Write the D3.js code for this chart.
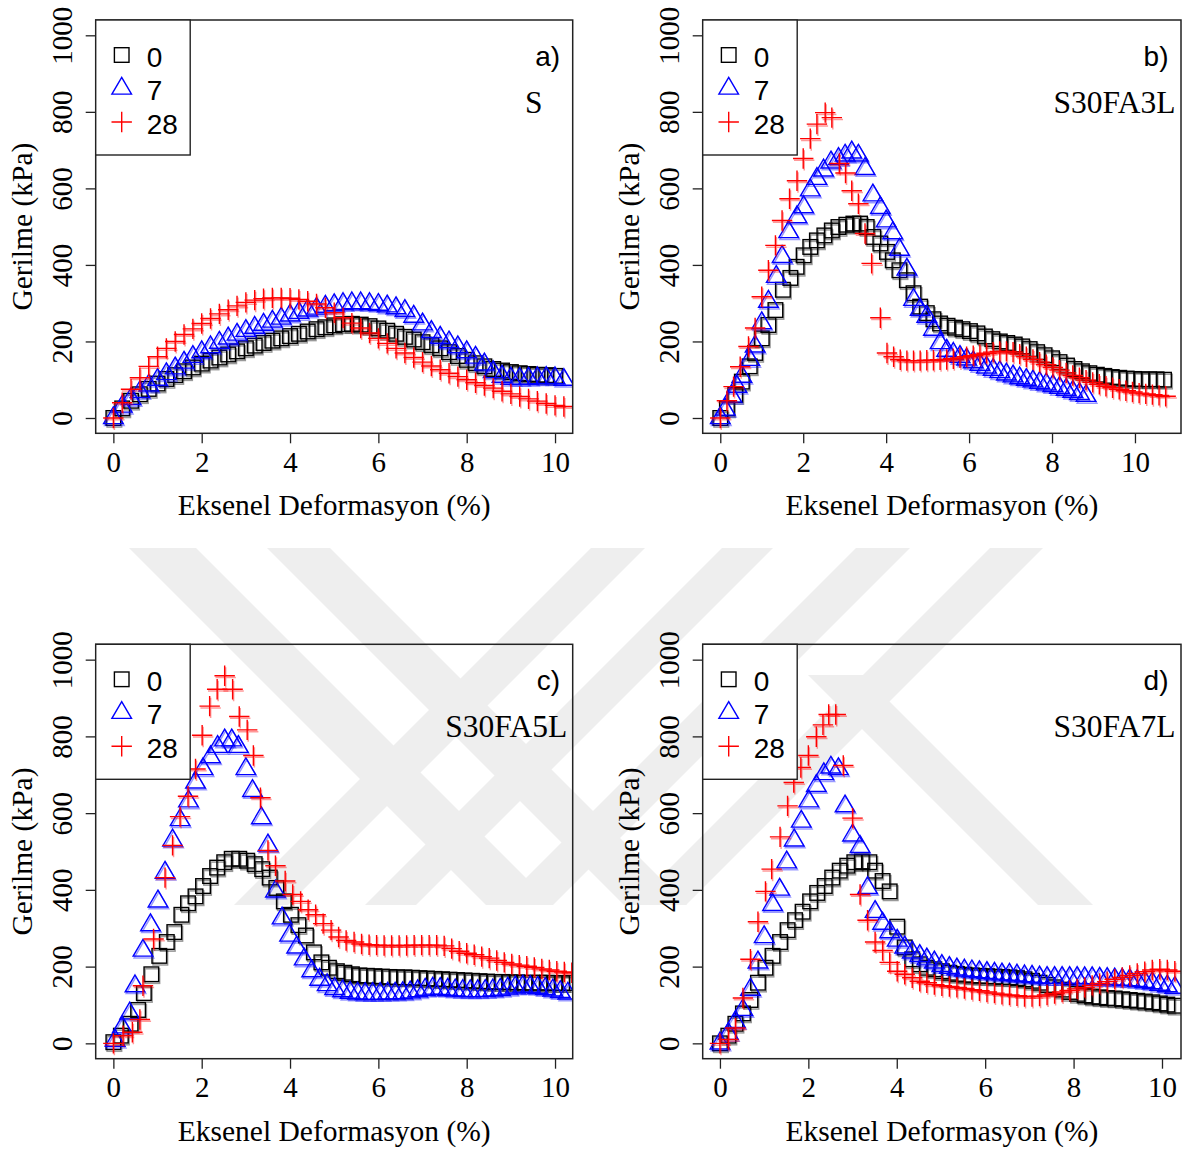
<!DOCTYPE html>
<html><head><meta charset="utf-8">
<script src="https://cdn.jsdelivr.net/npm/d3@7"></script>
<style>body{margin:0;background:#fff}svg{display:block}</style>
</head><body>
<script>
// ---------- data ----------
const xTicks = [0, 2, 4, 6, 8, 10];
const yTicks = [0, 200, 400, 600, 800, 1000];
const legendLabels = ["0", "7", "28"];
const xTitle = "Eksenel Deformasyon (%)";
const yTitle = "Gerilme (kPa)";

// Panel a) S
const a0 = [[0,0],[0.2,25],[0.4,45],[0.6,62],[0.8,76],[1.0,90],[1.2,102],[1.4,112],[1.6,122],[1.8,132],[2.0,142],[2.2,150],[2.4,158],[2.6,166],[2.8,174],[3.0,182],[3.2,189],[3.4,196],[3.6,202],[3.8,208],[4.0,214],[4.2,220],[4.4,226],[4.6,232],[4.8,237],[5.0,242],[5.2,245],[5.4,246],[5.6,244],[5.8,240],[6.0,234],[6.2,228],[6.4,220],[6.6,212],[6.8,205],[7.0,198],[7.2,190],[7.4,182],[7.6,172],[7.8,162],[8.0,152],[8.2,143],[8.4,135],[8.6,128],[8.8,124],[9.0,120],[9.2,117],[9.4,115],[9.6,113],[9.8,112],[10.0,110]];
const a7 = [[0,0],[0.2,30],[0.4,50],[0.6,68],[0.8,85],[1.0,100],[1.2,115],[1.4,130],[1.6,145],[1.8,160],[2.0,172],[2.2,185],[2.4,197],[2.6,208],[2.8,218],[3.0,228],[3.2,236],[3.4,244],[3.6,252],[3.8,260],[4.0,268],[4.2,275],[4.4,281],[4.6,286],[4.8,291],[5.0,295],[5.2,298],[5.4,300],[5.6,300],[5.8,298],[6.0,296],[6.2,292],[6.4,287],[6.6,280],[6.8,265],[7.0,245],[7.2,225],[7.4,210],[7.6,198],[7.8,185],[8.0,172],[8.2,158],[8.4,140],[8.6,120],[8.8,108],[9.0,103],[9.2,102],[9.4,103],[9.6,104],[9.8,105],[10.0,104],[10.2,100]];
const a28 = [[0,0],[0.2,40],[0.4,75],[0.6,105],[0.8,135],[1.0,160],[1.2,182],[1.4,200],[1.6,218],[1.8,233],[2.0,247],[2.2,260],[2.4,272],[2.6,283],[2.8,293],[3.0,302],[3.2,308],[3.4,312],[3.6,314],[3.8,314],[4.0,313],[4.2,310],[4.4,305],[4.6,298],[4.8,288],[5.0,275],[5.2,262],[5.4,248],[5.6,235],[5.8,222],[6.0,208],[6.2,195],[6.4,182],[6.6,170],[6.8,158],[7.0,146],[7.2,136],[7.4,126],[7.6,117],[7.8,108],[8.0,100],[8.2,92],[8.4,85],[8.6,78],[8.8,70],[9.0,63],[9.2,56],[9.4,50],[9.6,44],[9.8,38],[10.0,33],[10.2,30]];

// Panel b) S30FA3L
const b0 = [[0,0],[0.16,25],[0.36,60],[0.52,95],[0.71,135],[0.84,170],[1.0,208],[1.16,243],[1.33,282],[1.51,335],[1.69,366],[1.84,395],[2.01,425],[2.17,447],[2.33,464],[2.51,477],[2.69,490],[2.85,499],[3.04,505],[3.21,508],[3.37,508],[3.53,499],[3.69,473],[3.86,456],[4.02,434],[4.16,412],[4.32,386],[4.5,360],[4.66,326],[4.82,291],[4.98,274],[5.14,258],[5.3,247],[5.48,241],[5.66,236],[5.84,232],[6.02,227],[6.2,221],[6.38,213],[6.56,206],[6.74,200],[6.92,196],[7.1,192],[7.28,187],[7.46,180],[7.64,172],[7.82,164],[8.0,156],[8.18,146],[8.36,137],[8.54,128],[8.72,122],[8.9,117],[9.08,113],[9.26,110],[9.44,107],[9.62,105],[9.8,103],[9.98,102],[10.16,101],[10.34,101],[10.52,101],[10.7,100]];
const b7 = [[0,0],[0.12,22],[0.28,56],[0.4,82],[0.52,108],[0.71,152],[0.84,187],[1.0,248],[1.16,304],[1.35,369],[1.49,421],[1.65,486],[1.85,525],[2.01,551],[2.17,595],[2.33,625],[2.49,647],[2.67,668],[2.85,677],[3.01,686],[3.17,694],[3.33,686],[3.49,651],[3.68,582],[3.86,549],[4.0,514],[4.16,483],[4.32,440],[4.5,388],[4.66,309],[4.82,283],[4.98,265],[5.14,231],[5.3,196],[5.46,176],[5.62,168],[5.78,160],[5.94,153],[6.1,146],[6.26,139],[6.42,132],[6.58,126],[6.74,120],[6.9,114],[7.06,109],[7.22,104],[7.38,100],[7.54,96],[7.7,92],[7.86,88],[8.02,84],[8.18,79],[8.34,74],[8.5,69],[8.66,63],[8.82,58]];
const b28 = [[0,0],[0.16,45],[0.32,82],[0.48,134],[0.68,187],[0.84,235],[1.0,317],[1.16,386],[1.33,451],[1.49,516],[1.67,573],[1.85,620],[2.0,678],[2.17,730],[2.33,768],[2.53,798],[2.69,785],[2.87,665],[3.02,640],[3.17,594],[3.33,560],[3.49,482],[3.65,404],[3.86,262],[4.02,170],[4.18,160],[4.34,152],[4.5,150],[4.66,150],[4.82,150],[4.98,151],[5.14,151],[5.3,152],[5.46,153],[5.62,155],[5.78,157],[5.94,160],[6.1,163],[6.26,166],[6.42,169],[6.58,172],[6.74,174],[6.9,174],[7.06,172],[7.22,167],[7.38,160],[7.54,153],[7.7,146],[7.86,139],[8.02,132],[8.18,125],[8.34,118],[8.5,111],[8.66,105],[8.82,99],[8.98,93],[9.14,88],[9.3,83],[9.46,79],[9.62,75],[9.78,71],[9.94,68],[10.1,65],[10.26,63],[10.42,61],[10.58,59],[10.74,57]];

// Panel c) S30FA5L
const c0 = [[0,3],[0.17,20],[0.39,51],[0.56,87],[0.69,131],[0.86,180],[1.04,228],[1.21,264],[1.38,290],[1.54,335],[1.69,365],[1.86,383],[2.03,410],[2.19,436],[2.35,458],[2.51,472],[2.68,481],[2.85,481],[3.03,476],[3.2,467],[3.37,454],[3.54,432],[3.69,405],[3.86,370],[4.02,335],[4.19,308],[4.36,281],[4.54,237],[4.71,211],[4.88,197],[5.06,188],[5.23,184],[5.4,180],[5.57,177],[5.74,176],[5.91,175],[6.08,174],[6.25,173],[6.42,172],[6.59,172],[6.76,171],[6.93,170],[7.1,169],[7.27,168],[7.44,167],[7.61,166],[7.78,165],[7.95,164],[8.12,163],[8.29,162],[8.46,161],[8.63,160],[8.8,160],[8.97,159],[9.14,159],[9.31,158],[9.48,158],[9.65,158],[9.82,158],[9.99,157],[10.16,157],[10.33,157]];
const c7 = [[0.04,7],[0.2,42],[0.37,78],[0.49,149],[0.67,242],[0.84,308],[1.01,370],[1.17,445],[1.34,529],[1.51,582],[1.7,631],[1.86,680],[2.03,715],[2.2,746],[2.36,773],[2.52,790],[2.68,790],[2.83,773],[3.0,715],[3.15,658],[3.35,587],[3.5,516],[3.67,396],[3.82,326],[3.99,281],[4.15,250],[4.32,219],[4.49,188],[4.67,166],[4.84,152],[5.01,142],[5.19,136],[5.36,132],[5.53,130],[5.7,129],[5.87,129],[6.04,129],[6.21,130],[6.38,130],[6.55,131],[6.72,133],[6.89,136],[7.06,140],[7.23,143],[7.4,142],[7.57,140],[7.74,138],[7.91,137],[8.08,136],[8.25,136],[8.42,137],[8.59,138],[8.76,140],[8.93,143],[9.1,146],[9.27,148],[9.44,147],[9.61,145],[9.78,142],[9.95,138],[10.12,134],[10.29,130]];
const c28 = [[0,0],[0.22,20],[0.43,29],[0.6,62],[0.67,150],[0.91,272],[1.17,432],[1.34,516],[1.51,591],[1.69,644],[1.86,715],[2.01,803],[2.18,879],[2.35,923],[2.52,958],[2.7,923],[2.85,852],[3.03,817],[3.17,750],[3.33,640],[3.5,503],[3.67,463],[3.89,423],[4.06,388],[4.24,370],[4.41,348],[4.58,335],[4.75,312],[4.93,295],[5.1,277],[5.27,268],[5.45,264],[5.62,259],[5.79,257],[5.96,256],[6.13,255],[6.3,255],[6.47,255],[6.64,255],[6.81,256],[6.98,256],[7.15,256],[7.32,256],[7.49,254],[7.66,247],[7.83,240],[8.0,235],[8.17,231],[8.34,226],[8.51,222],[8.68,216],[8.85,211],[9.02,207],[9.19,204],[9.36,201],[9.53,198],[9.7,194],[9.87,191],[10.04,188],[10.21,186],[10.38,184]];

// Panel d) S30FA7L
const d0 = [[0,0],[0.19,20],[0.35,51],[0.52,78],[0.69,113],[0.86,158],[1.03,197],[1.19,228],[1.36,264],[1.53,295],[1.7,321],[1.87,343],[2.04,370],[2.2,392],[2.37,410],[2.54,432],[2.71,450],[2.88,463],[3.04,472],[3.21,474],[3.38,472],[3.51,450],[3.68,423],[3.84,396],[4.01,304],[4.18,250],[4.35,219],[4.52,206],[4.68,197],[4.85,193],[5.02,188],[5.19,184],[5.36,181],[5.53,179],[5.7,177],[5.87,176],[6.04,175],[6.21,174],[6.38,173],[6.55,172],[6.72,170],[6.89,167],[7.06,163],[7.23,158],[7.4,152],[7.57,146],[7.74,140],[7.91,134],[8.08,129],[8.25,125],[8.42,122],[8.59,120],[8.76,118],[8.93,117],[9.1,115],[9.27,113],[9.44,111],[9.61,109],[9.78,107],[9.95,104],[10.12,101],[10.29,98]];
const d7 = [[0,0],[0.19,25],[0.35,56],[0.52,87],[0.69,140],[0.86,211],[1.0,277],[1.19,361],[1.35,401],[1.51,472],[1.68,529],[1.84,578],[2.01,631],[2.18,671],[2.35,702],[2.51,719],[2.68,715],[2.83,618],[3.0,542],[3.17,512],[3.34,405],[3.51,343],[3.68,312],[3.84,290],[4.01,268],[4.18,250],[4.35,237],[4.52,228],[4.68,219],[4.85,211],[5.02,202],[5.19,197],[5.36,193],[5.53,190],[5.7,188],[5.87,186],[6.04,184],[6.21,182],[6.38,180],[6.55,179],[6.72,177],[6.89,175],[7.06,174],[7.23,172],[7.4,171],[7.57,171],[7.74,171],[7.91,171],[8.08,171],[8.25,170],[8.42,170],[8.59,169],[8.76,168],[8.93,167],[9.1,166],[9.27,165],[9.44,163],[9.61,160],[9.78,157],[9.95,153],[10.12,149],[10.29,145]];
const d28 = [[0,0],[0.19,10],[0.35,40],[0.52,118],[0.69,219],[0.86,317],[1.03,396],[1.17,454],[1.36,538],[1.53,619],[1.67,680],[1.83,719],[2.0,750],[2.18,799],[2.33,830],[2.46,857],[2.62,857],[2.79,724],[3.0,587],[3.17,388],[3.34,321],[3.51,264],[3.68,242],[3.84,211],[4.01,188],[4.18,180],[4.35,171],[4.52,162],[4.68,158],[4.85,153],[5.02,150],[5.19,148],[5.36,146],[5.53,143],[5.7,140],[5.87,137],[6.04,134],[6.21,131],[6.38,128],[6.55,126],[6.72,124],[6.89,122],[7.06,122],[7.23,123],[7.4,126],[7.57,130],[7.74,134],[7.91,138],[8.08,142],[8.25,146],[8.42,151],[8.59,156],[8.76,161],[8.93,167],[9.1,172],[9.27,177],[9.44,182],[9.61,187],[9.78,191],[9.95,193],[10.12,191],[10.29,188]];

// ---------- layout ----------
const W = 1183, H = 1151;
const serif = "'Liberation Serif','Times New Roman',Times,serif";
const sans = "'Liberation Sans',Arial,Helvetica,sans-serif";
const colors = ["#000000", "#0000ff", "#ff0000"];
const shapes = ["square", "triangle", "plus"];

const panels = [
  {tag: "a)", name: "S", series: [a0, a7, a28], box: {l: 95.7, t: 20, r: 572.7, b: 433.3}, xDom: [-0.4, 10.4], nameMid: true},
  {tag: "b)", name: "S30FA3L", series: [b0, b7, b28], box: {l: 702.7, t: 20, r: 1181, b: 433.3}, xDom: [-0.424, 11.11]},
  {tag: "c)", name: "S30FA5L", series: [c0, c7, c28], box: {l: 95.7, t: 644.3, r: 572.7, b: 1058.7}, xDom: [-0.4, 10.4]},
  {tag: "d)", name: "S30FA7L", series: [d0, d7, d28], box: {l: 702.7, t: 644.3, r: 1181, b: 1058.7}, xDom: [-0.39, 10.43]}
];

const svg = d3.select("body").append("svg").attr("width", W).attr("height", H)
  .attr("viewBox", `0 0 ${W} ${H}`);
svg.append("rect").attr("width", W).attr("height", H).attr("fill", "#fff");

// faint background watermark (decorative diagonal bands)
const wmBot = 905;
const wmBands = [
  {y0: 548, x0: 129, x1: 196, dir: 1}, {y0: 548, x0: 267, x1: 330, dir: 1},
  {y0: 548, x0: 591, x1: 645, dir: -1}, {y0: 548, x0: 722, x1: 773, dir: -1},
  {y0: 548, x0: 856, x1: 910, dir: -1}, {y0: 548, x0: 990, x1: 1043, dir: -1},
  {y0: 675, x0: 808, x1: 863, dir: 1}
];
const wm = svg.append("g").attr("fill", "#eeeeee");
wmBands.forEach(bd => {
  const d = (wmBot - bd.y0) * bd.dir;
  wm.append("polygon").attr("points",
    [[bd.x0, bd.y0], [bd.x1, bd.y0], [bd.x1 + d, wmBot], [bd.x0 + d, wmBot]].map(p => p.join(",")).join(" "));
});

function marker(g, shape, cx, cy, color, sw, op) {
  let el;
  if (shape === "square") {
    const h = 7.3;
    el = g.append("rect").attr("x", cx - h).attr("y", cy - h).attr("width", 2 * h).attr("height", 2 * h);
  } else if (shape === "triangle") {
    const top = 11.2, bot = 5.6, hw = 9.8;
    el = g.append("path").attr("d", `M${cx},${cy - top}L${cx + hw},${cy + bot}L${cx - hw},${cy + bot}Z`);
  } else {
    const h = 10.2;
    el = g.append("path").attr("d", `M${cx - h},${cy}H${cx + h}M${cx},${cy - h}V${cy + h}`);
  }
  el.attr("fill", "none").attr("stroke", color).attr("stroke-width", sw);
  if (op != null) el.attr("stroke-opacity", op);
}

panels.forEach((p, i) => {
  const B = p.box;
  const x = d3.scaleLinear().domain(p.xDom).range([B.l, B.r]);
  const y = d3.scaleLinear().domain([-40, 1040]).range([B.b, B.t]);
  const g = svg.append("g");
  const clipId = "clip" + i;
  g.append("clipPath").attr("id", clipId).append("rect")
    .attr("x", B.l).attr("y", B.t).attr("width", B.r - B.l).attr("height", B.b - B.t);

  // points (with a soft offset echo, like the rasterised original)
  const pg = g.append("g").attr("clip-path", `url(#${clipId})`);
  p.series.forEach((s, k) => {
    const sg = pg.append("g");
    s.forEach(pt => marker(sg, shapes[k], x(pt[0]) + 1, y(pt[1]) + 1.8, colors[k], 1.5, 0.4));
    s.forEach(pt => marker(sg, shapes[k], x(pt[0]), y(pt[1]), colors[k], 1.4));
  });

  // axes
  const xAxis = g.append("g").attr("transform", `translate(0,${B.b})`)
    .call(d3.axisBottom(x).tickValues(xTicks).tickSize(10).tickPadding(8).tickFormat(d3.format("d")));
  xAxis.select(".domain").remove();
  xAxis.selectAll("line").attr("stroke", "#222").attr("stroke-width", 1.3);
  xAxis.selectAll("text").attr("font-family", serif).attr("font-size", 29).attr("fill", "#000");

  const yAxis = g.append("g").attr("transform", `translate(${B.l},0)`)
    .call(d3.axisLeft(y).tickValues(yTicks).tickSize(10).tickFormat(d3.format("d")));
  yAxis.select(".domain").remove();
  yAxis.selectAll("line").attr("stroke", "#222").attr("stroke-width", 1.3);
  yAxis.selectAll("text").attr("font-family", serif).attr("font-size", 29).attr("fill", "#000")
    .attr("text-anchor", "middle").attr("dy", null).attr("dominant-baseline", "central")
    .attr("x", null).attr("transform", "translate(" + (-34) + ",0) rotate(-90)");

  // box
  g.append("rect").attr("x", B.l).attr("y", B.t).attr("width", B.r - B.l).attr("height", B.b - B.t)
    .attr("fill", "none").attr("stroke", "#222").attr("stroke-width", 1.5);

  // titles
  g.append("text").attr("x", (B.l + B.r) / 2).attr("y", B.b + 82)
    .attr("text-anchor", "middle").attr("font-family", serif).attr("font-size", 29.5).text(xTitle);
  g.append("text").attr("transform", `translate(${B.l - 74},${(B.t + B.b) / 2}) rotate(-90)`)
    .attr("text-anchor", "middle").attr("dominant-baseline", "central")
    .attr("font-family", serif).attr("font-size", 29.5).text(yTitle);

  // panel tag and name
  g.append("text").attr("x", B.r - 12.5).attr("y", B.t + 46).attr("text-anchor", "end")
    .attr("font-family", sans).attr("font-size", 28).text(p.tag);
  g.append("text").attr("x", p.nameMid ? B.r - 39 : B.r - 5.5).attr("y", B.t + 93)
    .attr("text-anchor", p.nameMid ? "middle" : "end")
    .attr("font-family", serif).attr("font-size", 31.5).text(p.name);

  // legend
  const lg = g.append("g");
  lg.append("rect").attr("x", B.l).attr("y", B.t).attr("width", 94.5).attr("height", 135)
    .attr("fill", "#fff").attr("stroke", "#222").attr("stroke-width", 1.4);
  legendLabels.forEach((lab, k) => {
    const cy = B.t + 37 + k * 33.5;
    marker(lg, shapes[k], B.l + 26, cy - 2, colors[k], 1.4);
    lg.append("text").attr("x", B.l + 51).attr("y", cy).attr("dominant-baseline", "central")
      .attr("font-family", sans).attr("font-size", 28).text(lab);
  });
});
</script>
</body></html>
